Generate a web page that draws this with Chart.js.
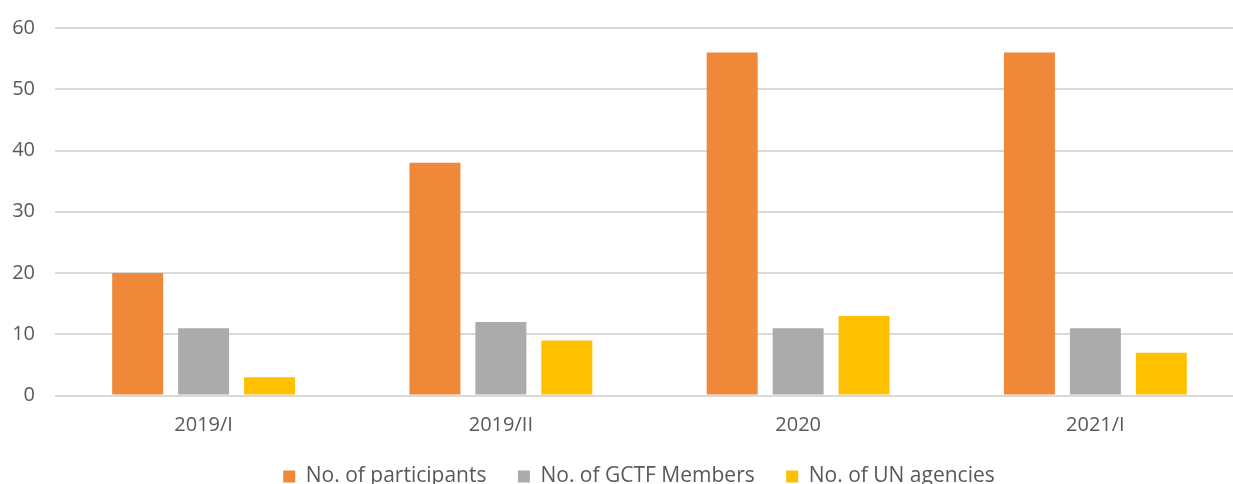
<!DOCTYPE html>
<html>
<head>
<meta charset="utf-8">
<script src="https://cdn.jsdelivr.net/npm/chart.js@4/dist/chart.umd.min.js"></script>
<style>
html,body{margin:0;padding:0;background:#fff;overflow:hidden;}
#wrap{position:relative;width:1244px;height:514px;margin-top:-4px;}
</style>
</head>
<body>
<div id="wrap"><canvas id="c"></canvas></div>
<script>
const categories = ["2019/I", "2019/II", "2020", "2021/I"];
const participants = [20, 38, 56, 56];
const gctfMembers = [11, 12, 11, 11];
const unAgencies = [3, 9, 13, 7];
const seriesNames = ["No. of participants", "No. of GCTF Members", "No. of UN agencies"];
const yTicks = {min: 0, max: 60, step: 10};

const FONT = "'Open Sans', sans-serif";
const TXT = "#595959";

// nudges the legend closer to the axis labels
const legendShift = {
  id: 'legendShift',
  afterLayout(chart) {
    const lg = chart.legend;
    if (lg) { lg.top -= 13; lg.bottom -= 13; lg.left += 11; lg.right += 11; }
  }
};

new Chart(document.getElementById('c'), {
  type: 'bar',
  data: {
    labels: categories,
    datasets: [
      {label: seriesNames[0], data: participants, backgroundColor: '#F0883A'},
      {label: seriesNames[1], data: gctfMembers, backgroundColor: '#ABABAB'},
      {label: seriesNames[2], data: unAgencies, backgroundColor: '#FFC000'}
    ]
  },
  plugins: [legendShift],
  options: {
    responsive: true,
    maintainAspectRatio: false,
    animation: false,
    datasets: {bar: {categoryPercentage: 0.6655, barPercentage: 0.773}},
    layout: {padding: {left: 12, right: 0, top: 2, bottom: 0}},
    plugins: {
      tooltip: {enabled: false},
      legend: {
        position: 'bottom',
        labels: {
          font: {family: FONT, size: 21},
          color: TXT,
          boxWidth: 12,
          boxHeight: 12,
          padding: 31.5
        }
      }
    },
    scales: {
      x: {
        grid: {display: false},
        border: {display: false},
        ticks: {font: {family: FONT, size: 20}, color: TXT, padding: 10}
      },
      y: {
        min: yTicks.min,
        max: yTicks.max,
        afterFit(scale) { scale.width = 43; },
        ticks: {stepSize: yTicks.step, font: {family: FONT, size: 20}, color: TXT, padding: 20},
        grid: {color: '#d9d9d9', lineWidth: 2, drawTicks: false},
        border: {display: false}
      }
    }
  }
});
</script>
</body>
</html>
